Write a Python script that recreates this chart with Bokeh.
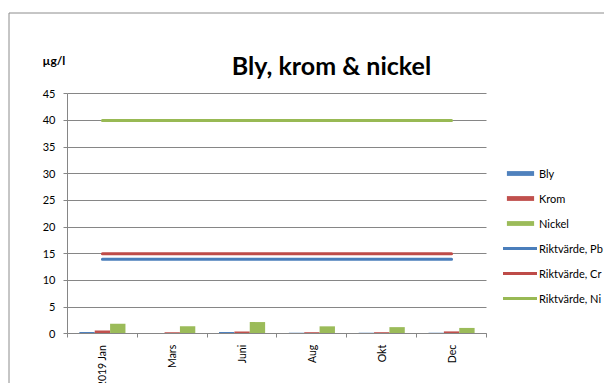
from math import pi

from bokeh.embed import file_html
from bokeh.models import (BoxAnnotation, ColumnDataSource, FixedTicker, Grid,
                          Label, Legend, LegendItem, Range1d)
from bokeh.plotting import figure
from bokeh.resources import INLINE

# Sampling months and measured concentrations (µg/l)
months = ["2019 Jan", "Mars", "Juni", "Aug", "Okt", "Dec"]
bly = [0.35, 0.0, 0.35, 0.2, 0.2, 0.2]
krom = [0.6, 0.3, 0.45, 0.3, 0.3, 0.45]
nickel = [1.9, 1.4, 2.2, 1.4, 1.25, 1.1]

# Guideline values (riktvärden)
rikt_pb = [14, 14, 14, 14, 14, 14]
rikt_cr = [15, 15, 15, 15, 15, 15]
rikt_ni = [40, 40, 40, 40, 40, 40]

y_ticks = [0, 5, 10, 15, 20, 25, 30, 35, 40, 45]

W, H = 604, 383
FONT = "Lato"
TEXT = "#000000"
AXIS = "#868686"

# The plotting frame fills the whole canvas; the axes sit at fixed data
# locations so the title, unit and legend can live inside the frame.
ORIGIN_X, ORIGIN_Y = 67.0, 333.3      # canvas pixel of data (0, 0)
PX_PER_X = 69.83                      # pixels per month slot
PX_PER_Y = 240.0 / 45.0               # pixels per µg/l

BAR_W = 0.22
n = len(months)
centers = [i + 0.5 for i in range(n)]
bounds = list(range(n + 1))

src = ColumnDataSource(dict(
    center=centers,
    x_bly=[c - BAR_W for c in centers],
    x_krom=centers,
    x_ni=[c + BAR_W for c in centers],
    bly=bly, krom=krom, nickel=nickel,
    pb=rikt_pb, cr=rikt_cr, ni=rikt_ni,
))

p = figure(
    width=W, height=H,
    x_range=Range1d(-ORIGIN_X / PX_PER_X, (W - ORIGIN_X) / PX_PER_X),
    y_range=Range1d(-(H - ORIGIN_Y) / PX_PER_Y, ORIGIN_Y / PX_PER_Y),
    output_backend="svg", toolbar_location=None,
    min_border=0, min_border_left=0, min_border_right=0,
    min_border_top=0, min_border_bottom=0,
)
p.title.visible = False
p.outline_line_color = None
p.background_fill_color = "white"
p.border_fill_color = "white"

# Y axis
p.yaxis.fixed_location = 0
p.yaxis.bounds = (0, y_ticks[-1])
p.yaxis.ticker = FixedTicker(ticks=y_ticks)
p.yaxis.axis_line_color = AXIS
p.yaxis.major_tick_line_color = AXIS
p.yaxis.major_tick_in = 0
p.yaxis.major_tick_out = 4
p.yaxis.minor_tick_line_color = None
p.yaxis.major_label_standoff = 8
p.yaxis.major_label_text_font = FONT
p.yaxis.major_label_text_font_size = "11px"
p.yaxis.major_label_text_color = TEXT

# X axis: month names at slot centres, tick marks between slots
p.xaxis.fixed_location = 0
p.xaxis.bounds = (0, n)
p.xaxis.ticker = FixedTicker(ticks=centers, minor_ticks=bounds)
p.xaxis.major_label_overrides = {c: m for c, m in zip(centers, months)}
p.xaxis.major_label_orientation = pi / 2
p.xaxis.axis_line_color = AXIS
p.xaxis.major_tick_line_color = None
p.xaxis.major_tick_in = 0
p.xaxis.major_tick_out = 0
p.xaxis.minor_tick_line_color = AXIS
p.xaxis.minor_tick_in = 0
p.xaxis.minor_tick_out = 4
p.xaxis.major_label_standoff = 7
p.xaxis.major_label_text_font = FONT
p.xaxis.major_label_text_font_size = "10.5px"
p.xaxis.major_label_text_color = TEXT

# Horizontal gridlines across the month slots only
p.xgrid.grid_line_color = None
if "cross_bounds" in Grid.properties():
    p.ygrid.ticker = FixedTicker(ticks=y_ticks)
    p.ygrid.grid_line_color = AXIS
    p.ygrid.cross_bounds = (0, n)
else:
    p.ygrid.grid_line_color = None
    p.segment(x0=[0] * len(y_ticks), x1=[n] * len(y_ticks),
              y0=y_ticks, y1=y_ticks, line_color=AXIS, line_width=1)

# Measured values as clustered bars
r_bly = p.vbar(x="x_bly", top="bly", width=BAR_W, source=src,
               fill_color="#4F81BD", line_color=None)
r_krom = p.vbar(x="x_krom", top="krom", width=BAR_W, source=src,
                fill_color="#C0504D", line_color=None)
r_ni = p.vbar(x="x_ni", top="nickel", width=BAR_W, source=src,
              fill_color="#9BBB59", line_color=None)

# Guideline values as lines
r_pb = p.line(x="center", y="pb", source=src, line_color="#4A7EBB",
              line_width=3, line_cap="round")
r_cr = p.line(x="center", y="cr", source=src, line_color="#BE4B48",
              line_width=3, line_cap="round")
r_nl = p.line(x="center", y="ni", source=src, line_color="#98B954",
              line_width=3, line_cap="round")

# Title and unit
p.add_layout(Label(
    x=331, y=H - 64.3, x_units="screen", y_units="screen",
    text="Bly, krom & nickel", text_align="center", text_baseline="alphabetic",
    text_font=FONT, text_font_size="25px", text_font_style="bold",
    text_color=TEXT,
))
p.add_layout(Label(
    x=42, y=H - 60, x_units="screen", y_units="screen",
    text="µg/l", text_align="left", text_baseline="alphabetic",
    text_font=FONT, text_font_size="12px", text_font_style="bold",
    text_color=TEXT,
))

# Chart area border
p.add_layout(BoxAnnotation(
    left=8.5, right=W + 50, top=H - 12.5, bottom=-50,
    left_units="screen", right_units="screen",
    top_units="screen", bottom_units="screen",
    fill_alpha=0, line_color="#8C8C8C", line_alpha=1.0, line_width=1,
))

legend = Legend(
    items=[
        LegendItem(label="Bly", renderers=[r_bly]),
        LegendItem(label="Krom", renderers=[r_krom]),
        LegendItem(label="Nickel", renderers=[r_ni]),
        LegendItem(label="Riktvärde, Pb", renderers=[r_pb]),
        LegendItem(label="Riktvärde, Cr", renderers=[r_cr]),
        LegendItem(label="Riktvärde, Ni", renderers=[r_nl]),
    ],
    location=(503, 75),
    glyph_width=34, glyph_height=6, label_height=20, spacing=5,
    label_standoff=2, padding=0, margin=0,
    border_line_color=None, background_fill_alpha=0,
    label_text_font=FONT, label_text_font_size="11px",
    label_text_color=TEXT, label_text_baseline="middle",
)
p.add_layout(legend)

open("out.html", "w").write(file_html(p, INLINE))
